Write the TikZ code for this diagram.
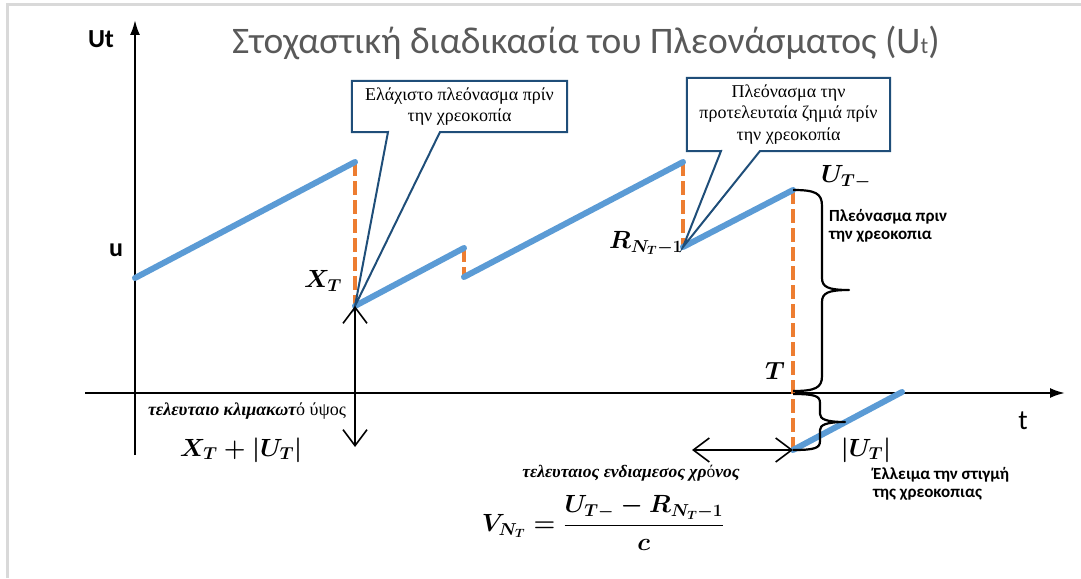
\documentclass[tikz,border=0pt]{standalone}
\usepackage{fontspec}
\setmainfont{Liberation Serif}
\newfontfamily\calibri{Carlito}
\usetikzlibrary{arrows.meta}
\definecolor{surplus}{HTML}{5B9BD5}
\definecolor{claimc}{HTML}{ED7D31}
\definecolor{navy}{HTML}{1F4E79}
\definecolor{titlegray}{HTML}{595959}
\definecolor{framegray}{HTML}{D9D9D9}

\begin{document}
\begin{tikzpicture}[
  x=1pt, y=-1pt,
  axis/.style={-{Latex[length=15pt,width=10pt]}, line width=2.2pt},
  surplusline/.style={surplus, line width=6pt, line cap=round},
  jump/.style={claimc, line width=4.5pt, dash pattern=on 14pt off 5pt},
  twoway/.style={{Straight Barb[length=16pt,width=24pt]}-{Straight Barb[length=16pt,width=24pt]}, line width=1.6pt},
  brc/.style={line width=2.2pt, line join=round},
  callout/.style={draw=navy, line width=2pt, line join=miter},
  note/.style={align=center, font=\fontsize{18}{21.5}\selectfont},
  sidenote/.style={align=left, inner sep=0pt, font=\calibri\bfseries\fontsize{17}{18}\selectfont},
  mlabel/.style={font=\fontsize{24}{24}\selectfont\boldmath},
  glabel/.style={font=\bfseries\fontsize{18}{18}\selectfont}
]
\useasboundingbox (0,0) rectangle (1081,578);
\draw[framegray, line width=3pt] (7,578) -- (7,5) -- (1081,5);

% title and axes
\node[font=\calibri\fontsize{37.5}{37.5}\selectfont, text=titlegray] (title) at (586,43) {Στοχαστική διαδικασία του Πλεονάσματος (U{\fontsize{23}{23}\selectfont t})};
\coordinate (y0) at (135,455);
\coordinate (y1) at (135,20);
\coordinate (x0) at (85,393);
\coordinate (x1) at (1065,393);
\draw[axis] (y0) -- (y1);
\draw[axis] (x0) -- (x1);
\node[font=\calibri\bfseries\fontsize{26}{26}\selectfont] (ylab) at (101,39) {Ut};
\node[font=\calibri\bfseries\fontsize{26}{26}\selectfont] (ulab) at (116,250) {u};
\node[font=\calibri\fontsize{28}{28}\selectfont] (tlab) at (1023,421) {t};

% surplus path
\coordinate (s0) at (135,278);
\coordinate (s1) at (355,162);
\coordinate (s2) at (355,306);
\coordinate (s3) at (464,248);
\coordinate (s4) at (464,277);
\coordinate (s5) at (683,162);
\coordinate (s6) at (683,247);
\coordinate (s7) at (793,190);
\coordinate (s8) at (793,450);
\coordinate (s9) at (902,392);
\draw[jump] (s1) -- (s2);
\draw[jump] (s3) -- (s4);
\draw[jump] (s5) -- (s6);
\draw[jump] (s7) -- (s8);
\draw[surplusline] (s0) -- (s1);
\draw[surplusline] (s2) -- (s3);
\draw[surplusline] (s4) -- (s5);
\draw[surplusline] (s6) -- (s7);
\draw[surplusline] (s8) -- (s9);

% callouts
\node[note, minimum width=215pt, minimum height=51pt] (minbox) at (459.5,106.5) {Ελάχιστο πλεόνασμα πρίν\\την χρεοκοπία};
\coordinate (mina) at (388,132);
\coordinate (minb) at (440,132);
\draw[callout] (minbox.south east) -- (minb) -- (s2) -- (mina) -- (minbox.south west) -- (minbox.north west) -- (minbox.north east) -- cycle;
\node[note, minimum width=203pt, minimum height=73pt] (prevbox) at (788.5,114.5) {Πλεόνασμα την\\προτελευταία ζημιά πρίν\\την χρεοκοπία};
\coordinate (preva) at (721,151);
\coordinate (prevb) at (760,151);
\draw[callout] (prevbox.south east) -- (prevb) -- (s6) -- (preva) -- (prevbox.south west) -- (prevbox.north west) -- (prevbox.north east) -- cycle;

% labels on the path
\node[mlabel] (xt) at (323,281) {$X_T$};
\node[mlabel] (rn) at (646,243) {$R_{N_T-1}$};
\node[mlabel] (utm) at (846,177) {$U_{T-}$};
\node[mlabel] (tt) at (775,371) {$T$};
\node[mlabel, font=\fontsize{26}{26}\selectfont\boldmath] (absu) at (866,450) {$|U_T|$};
\node[mlabel, font=\fontsize{26}{26}\selectfont\boldmath] (xpu) at (241,450) {$X_T+|U_T|$};
\node[mlabel, font=\fontsize{25}{25}\selectfont\boldmath] (vnt) at (603,523) {$\displaystyle V_{N_T}=\frac{U_{T-}-R_{N_T-1}}{c}$};

% braces
\draw[brc] (s7) .. controls (815,190) and (822,193) .. (822,206) -- (822,278)
  .. controls (822,287) and (828,290) .. (849,290)
  .. controls (828,290) and (822,293) .. (822,302) -- (822,376)
  .. controls (822,388) and (815,391) .. (793,391);
\draw[brc] (793,394) .. controls (815,394) and (820,396) .. (820,403) -- (820,414)
  .. controls (820,419) and (826,422) .. (845,422)
  .. controls (826,422) and (820,425) .. (820,430) -- (820,441)
  .. controls (820,448) and (815,450) .. (s8);
\node[sidenote, anchor=north west] (before) at (829,209) {Πλεόνασμα πριν\\την χρεοκοπια};
\node[sidenote, anchor=north west] (deficit) at (873,467) {Έλλειμα την στιγμή\\της χρεοκοπιας};

% spans
\coordinate (h0) at (355,447);
\coordinate (w0) at (692,450);
\draw[twoway] (s2) -- (h0);
\draw[twoway] (w0) -- (s8);
\node[glabel] (lastjump) at (247,411) {\itshape τελευταιο κλιμακωτ\upshape\mdseries ό ύψος};
\node[glabel, font=\bfseries\fontsize{17.5}{17.5}\selectfont] (lastwait) at (631,473) {\itshape τελευταιος ενδιαμεσος χρ\upshape\mdseries ό\bfseries\itshape νος};
\end{tikzpicture}
\end{document}
